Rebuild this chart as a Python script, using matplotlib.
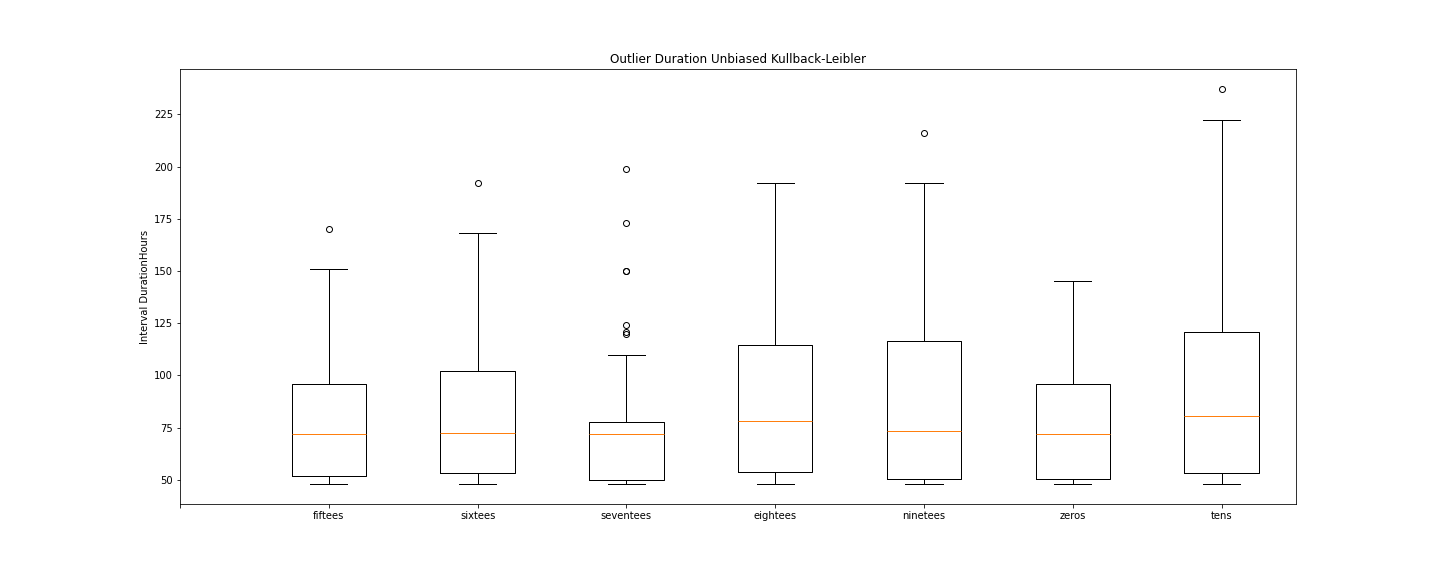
import matplotlib
matplotlib.use("Agg")
import matplotlib.pyplot as plt

labels = ["fiftees", "sixtees", "seventees", "eightees", "ninetees", "zeros", "tens"]
whislo = [48, 48, 48, 48, 48, 48, 48]
q1 = [52, 53.3, 50, 53.8, 50.5, 50.5, 53.3]
med = [72, 72.5, 72, 78.2, 73.4, 72, 80.6]
q3 = [95.9, 102, 77.7, 114.6, 116.5, 96, 120.8]
whishi = [151, 168, 109.8, 192, 192, 145, 222.2]
fliers = [
    [170],
    [192],
    [120, 121, 124, 150, 150.2, 173, 199],
    [],
    [216],
    [],
    [237],
]

stats = []
for i, name in enumerate(labels):
    stats.append({
        "label": name,
        "whislo": whislo[i],
        "q1": q1[i],
        "med": med[i],
        "q3": q3[i],
        "whishi": whishi[i],
        "fliers": fliers[i],
    })

fig, ax = plt.subplots(figsize=(20, 8), dpi=72)
fig.subplots_adjust(left=0.125, right=0.9, top=0.88, bottom=0.125)

positions = list(range(2, 2 + len(labels)))
ax.bxp(stats, positions=positions, widths=0.5,
       medianprops={"color": "#ff7f0e"})

ax.set_xticks([1] + positions)
ax.set_xticklabels([""] + labels)
ax.set_xlim(1, 8.5)
ax.set_ylim(38.5, 246.6)
ax.set_yticks([50, 75, 100, 125, 150, 175, 200, 225])
ax.set_ylabel("Interval DurationHours")
ax.set_title("Outlier Duration Unbiased Kullback-Leibler")

fig.savefig("out.png", dpi=72)
